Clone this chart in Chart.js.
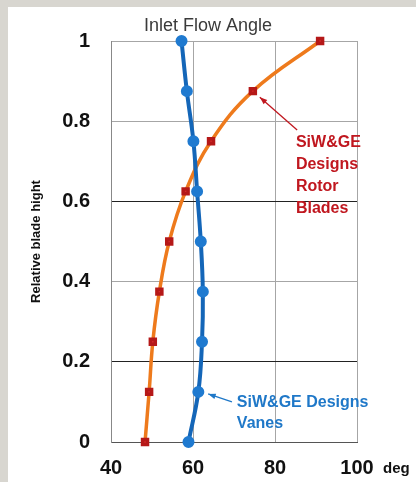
<!DOCTYPE html>
<html>
<head>
<meta charset="utf-8">
<script src="https://cdn.jsdelivr.net/npm/chart.js@4.4.1/dist/chart.umd.min.js"></script>
<style>
  html, body { margin: 0; padding: 0; background: #d8d6d0; }
  #wrap { position: absolute; left: 8px; top: 7px; width: 408px; height: 475px; background: #fff; }
</style>
</head>
<body>
<div id="wrap"><canvas id="chart" width="408" height="475"></canvas></div>
<script>
// relative blade height (0 = hub, 1 = tip)
var heights = [0, 0.125, 0.25, 0.375, 0.5, 0.625, 0.75, 0.875, 1];
// inlet flow angle, deg
var rotorAngle = [48.3, 49.3, 50.2, 51.8, 54.2, 58.2, 64.4, 74.6, 91.0];
var vaneAngle = [58.9, 61.3, 62.2, 62.4, 61.9, 61.0, 60.1, 58.5, 57.2];

var xTicks = [40, 60, 80, 100];
var yTicks = [0, 0.2, 0.4, 0.6, 0.8, 1];

var rotorLabel = ["SiW&GE", "Designs", "Rotor", "Blades"];
var vaneLabel = ["SiW&GE Designs", "Vanes"];

var FONT = "'Liberation Sans', Arial, sans-serif";

function toPoints(xs, ys) {
  return xs.map(function (x, i) { return { x: x, y: ys[i] }; });
}

function arrow(ctx, x1, y1, x2, y2, color) {
  var a = Math.atan2(y2 - y1, x2 - x1);
  ctx.strokeStyle = color;
  ctx.fillStyle = color;
  ctx.lineWidth = 1.3;
  ctx.beginPath();
  ctx.moveTo(x1, y1);
  ctx.lineTo(x2, y2);
  ctx.stroke();
  ctx.beginPath();
  ctx.moveTo(x2, y2);
  ctx.lineTo(x2 - 8 * Math.cos(a - 0.35), y2 - 8 * Math.sin(a - 0.35));
  ctx.lineTo(x2 - 8 * Math.cos(a + 0.35), y2 - 8 * Math.sin(a + 0.35));
  ctx.closePath();
  ctx.fill();
}

// title, unit and the two callouts
var extras = {
  id: 'extras',
  afterDraw: function (chart) {
    var ctx = chart.ctx, xs = chart.scales.x, ys = chart.scales.y, area = chart.chartArea;
    ctx.save();
    ctx.fillStyle = '#3a3a3a';
    ctx.font = '18px ' + FONT;
    ctx.textAlign = 'center';
    ctx.textBaseline = 'middle';
    ctx.fillText('Inlet Flow Angle', (area.left + area.right) / 2 - 26, 19);

    ctx.fillStyle = '#111';
    ctx.font = 'bold 15px ' + FONT;
    ctx.textAlign = 'left';
    ctx.textBaseline = 'alphabetic';
    ctx.fillText('deg', area.right + 26, area.bottom + 31);

    // rotor callout
    ctx.fillStyle = '#c0171f';
    ctx.font = 'bold 16px ' + FONT;
    var rx = xs.getPixelForValue(85.1), ry = ys.getPixelForValue(0.735);
    rotorLabel.forEach(function (t, i) { ctx.fillText(t, rx, ry + i * 22); });
    arrow(ctx, xs.getPixelForValue(85.4), ys.getPixelForValue(0.778),
      xs.getPixelForValue(76.3), ys.getPixelForValue(0.86), '#c0171f');

    // vane callout
    ctx.fillStyle = '#1f78c8';
    var vx = xs.getPixelForValue(70.7), vy = ys.getPixelForValue(0.088);
    vaneLabel.forEach(function (t, i) { ctx.fillText(t, vx, vy + i * 21.5); });
    arrow(ctx, xs.getPixelForValue(69.5), ys.getPixelForValue(0.0998),
      xs.getPixelForValue(63.7), ys.getPixelForValue(0.12), '#1f78c8');
    ctx.restore();
  }
};

new Chart(document.getElementById('chart'), {
  type: 'scatter',
  data: {
    datasets: [
      {
        label: 'Vanes',
        data: toPoints(vaneAngle, heights),
        showLine: true,
        borderColor: '#1466b8',
        borderWidth: 4,
        tension: 0.4,
        pointStyle: 'circle',
        pointRadius: 4,
        pointBackgroundColor: '#1f7ad0',
        pointBorderColor: '#1f7ad0',
        clip: false
      },
      {
        label: 'Rotor Blades',
        data: toPoints(rotorAngle, heights),
        showLine: true,
        borderColor: '#ee7a1c',
        borderWidth: 3.5,
        tension: 0.4,
        pointStyle: 'rect',
        pointRadius: 3.5,
        pointBackgroundColor: '#d42a2a',
        pointBorderColor: '#b51818',
        clip: false
      }
    ]
  },
  options: {
    responsive: false,
    animation: false,
    layout: { padding: { top: 34, right: 59, left: 0, bottom: 0 } },
    plugins: { legend: { display: false }, tooltip: { enabled: false } },
    scales: {
      x: {
        type: 'linear',
        min: xTicks[0],
        max: xTicks[xTicks.length - 1],
        afterFit: function (s) { s.height = 40; },
        afterBuildTicks: function (s) { s.ticks = xTicks.map(function (v) { return { value: v }; }); },
        grid: { color: '#a6a6a6', drawTicks: false },
        border: { color: '#555' },
        ticks: { padding: 14, color: '#111', font: { family: FONT, size: 20, weight: 'bold' },
          callback: function (v) { return String(v); } }
      },
      y: {
        type: 'linear',
        min: yTicks[0],
        max: yTicks[yTicks.length - 1],
        afterFit: function (s) { s.width = 103; },
        afterBuildTicks: function (s) { s.ticks = yTicks.map(function (v) { return { value: v }; }); },
        grid: {
          drawTicks: false,
          color: function (c) {
            var v = c.tick ? c.tick.value : null;
            return (v === 0.2 || v === 0.6) ? '#222' : '#a6a6a6';
          }
        },
        border: { color: '#888' },
        ticks: { padding: 21, color: '#111', font: { family: FONT, size: 20, weight: 'bold' },
          callback: function (v) { return String(v); } },
        title: {
          display: true,
          text: 'Relative blade hight',
          color: '#111',
          padding: { top: 21, bottom: 0 },
          font: { family: FONT, size: 13, weight: 'bold' }
        }
      }
    }
  },
  plugins: [extras]
});
</script>
</body>
</html>
